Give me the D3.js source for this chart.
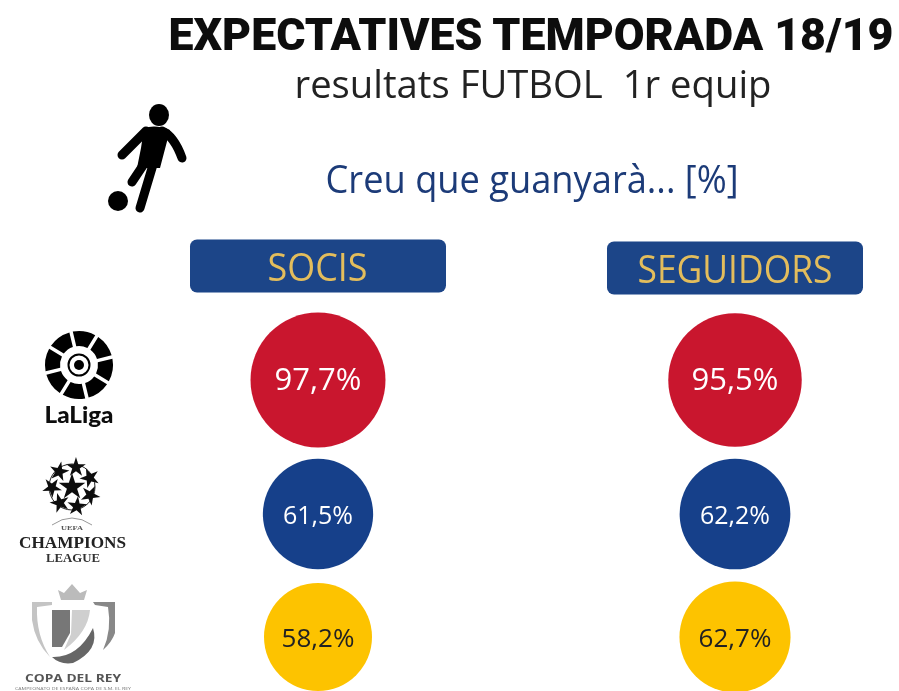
<!DOCTYPE html>
<html>
<head>
<meta charset="utf-8">
<script src="https://cdn.jsdelivr.net/npm/d3@7"></script>
<style>
  html, body { margin: 0; padding: 0; background: #fff; }
  svg { display: block; }
  text { text-anchor: middle; white-space: pre; }
</style>
</head>
<body>
<svg width="899" height="691"></svg>
<script>
const groups = ["SOCIS", "SEGUIDORS"]
const competitions = ["LaLiga", "Champions", "Copa"]
const socisValues = [97.7, 61.5, 58.2]
const seguidorsValues = [95.5, 62.2, 62.7]
const circleColors = ["#c9152f", "#17418a", "#fdc300"]

const soft = d3.select("svg").append("defs").append("filter").attr("id", "soft")
soft.append("feGaussianBlur").attr("stdDeviation", 0.6)

// the whole picture is a bit blurry in the reference
var svg = d3.select("svg").append("g").attr("filter", "url(#soft)")

const formatValue = (v) => v.toFixed(1).replace(".", ",") + "%"

var x = d3.scalePoint().domain(groups).range([318, 735])
var y = d3.scaleOrdinal().domain(competitions).range([380, 514, 637])
var r = d3.scaleLinear().domain([58.2, 97.7]).range([54, 67.5])
var color = d3.scaleOrdinal().domain(competitions).range(circleColors)

const rows = []
groups.forEach((group, i) => {
  const values = i === 0 ? socisValues : seguidorsValues
  competitions.forEach((c, j) => rows.push({ group, competition: c, value: values[j] }))
})

// text squeezed to the width it has in the picture
function label(parent, str, cx, cy, width, size, font, weight, fill) {
  return parent.append("text")
    .attr("x", cx).attr("y", cy)
    .attr("textLength", width).attr("lengthAdjust", "spacingAndGlyphs")
    .style("font-family", font).style("font-size", size + "px")
    .style("font-weight", weight).style("fill", fill)
    .text(str)
}

const sans = "'Open Sans', sans-serif"
label(svg, "EXPECTATIVES TEMPORADA 18/19", 531, 50, 725, 45, "Roboto, sans-serif", 900, "#111")
label(svg, "resultats FUTBOL  1r equip", 533, 98, 477, 39, sans, 400, "#222")
label(svg, "Creu que guanyarà... [%]", 532, 193, 413, 39, sans, 500, "#1b3a78")

// header pills
const pillY = { SOCIS: 266, SEGUIDORS: 268 }
const pills = svg.selectAll(".pill").data(groups).enter().append("g").attr("class", "pill")
pills.append("rect")
  .attr("x", d => x(d) - 128)
  .attr("y", d => pillY[d] - 26.5)
  .attr("width", 256).attr("height", 53).attr("rx", 7)
  .attr("fill", "#1b4488")
pills.each(function(d) {
  label(d3.select(this), d, x(d) - (d === "SOCIS" ? 0.5 : 0), pillY[d] + 14.5, d === "SOCIS" ? 100 : 195, 38, sans, 400, "#e3bd5c")
})

// bubbles
svg.selectAll(".bubble").data(rows).enter().append("circle")
  .attr("class", "bubble")
  .attr("cx", d => x(d.group))
  .attr("cy", d => y(d.competition))
  .attr("r", d => r(d.value))
  .attr("fill", d => color(d.competition))

svg.selectAll(".value").data(rows).enter().append("text")
  .attr("class", "value")
  .attr("x", d => x(d.group))
  .attr("y", d => y(d.competition) + 10)
  .style("font-family", sans)
  .style("font-size", d => d.competition === "LaLiga" ? "31px" : d.competition === "Copa" ? "26px" : "25px")
  .style("fill", d => d.competition === "Copa" ? "#222" : "#fff")
  .text(d => formatValue(d.value))

// player icon
const player = svg.append("g")
player.append("ellipse").attr("cx", 159).attr("cy", 115).attr("rx", 10).attr("ry", 11).attr("fill", "#000")
player.append("circle").attr("cx", 118).attr("cy", 201).attr("r", 10).attr("fill", "#000")
player.append("path").attr("d", "M146 131 L122 155 M162 131 Q174 136 182 158 M148 158 L132 182 M155 158 L140 208")
  .attr("fill", "none").attr("stroke", "#000").attr("stroke-width", 9).attr("stroke-linecap", "round").attr("stroke-linejoin", "round")
player.append("path").attr("d", "M144 128 Q156 124 170 130 L160 168 L137 168 L141 148 Z").attr("fill", "#000")

// LaLiga logo
const laliga = svg.append("g").attr("transform", "translate(79,365)")
const segment = d3.arc().innerRadius(19).outerRadius(34).padAngle(0.09)
d3.range(8).forEach(i => {
  laliga.append("path")
    .attr("d", segment({ startAngle: (i - 0.3) * Math.PI / 4, endAngle: (i + 0.7) * Math.PI / 4 }))
    .attr("fill", "#000")
})
laliga.append("circle").attr("r", 10.5).attr("fill", "none").attr("stroke", "#000").attr("stroke-width", 2)
laliga.append("circle").attr("r", 5).attr("fill", "#000")
label(svg, "LaLiga", 79, 423, 69, 22, "Lato, sans-serif", 900, "#111")

// Champions League logo
const ucl = svg.append("g").attr("transform", "translate(72,487)")
const star = d3.symbol().type(d3.symbolStar)
ucl.append("circle").attr("r", 23).attr("fill", "#fff").attr("stroke", "#222").attr("stroke-width", 1)
ucl.append("path").attr("d", star.size(220)()).attr("fill", "#111")
d3.range(7).forEach(i => {
  const a = i * 2 * Math.PI / 7 + 0.2
  ucl.append("path")
    .attr("transform", "translate(" + 20 * Math.sin(a) + "," + -20 * Math.cos(a) + ") rotate(" + i * 50 + ")")
    .attr("d", star.size(120)())
    .attr("fill", "#111")
})
ucl.append("path").attr("d", "M-20 38 Q0 24 20 38").attr("fill", "none").attr("stroke", "#999").attr("stroke-width", 1)
label(svg, "UEFA", 72, 530, 22, 7, "'Liberation Serif', serif", 700, "#555")
label(svg, "CHAMPIONS", 72.5, 548, 107, 16, "'Liberation Serif', serif", 700, "#222")
label(svg, "LEAGUE", 73, 562, 54, 12, "'Liberation Serif', serif", 700, "#333")

// Copa del Rey logo
const copa = svg.append("g")
copa.append("path").attr("d", "M58 590 L64 593 L72 584 L80 593 L87 590 L84 600 L61 600 Z").attr("fill", "#bbb")
copa.append("path").attr("d", "M32 602 L52 602 L52 605 L37 607 Q36 635 50 657 Q35 642 32 620 Z").attr("fill", "#c4c4c4")
copa.append("path").attr("d", "M93 602 L115 602 L115 633 Q112 642 103 650 Q112 630 108 607 L95 605 Z").attr("fill", "#888")
copa.append("path").attr("d", "M52 610 L70 610 L70 633 L62 647 L52 647 Z").attr("fill", "#777")
copa.append("path").attr("d", "M72 610 L90 610 Q88 632 64 650 L71 634 Z").attr("fill", "#cfcfcf")
copa.append("path").attr("d", "M52 657 Q78 658 93 628 Q100 650 73 663 Q60 665 52 657 Z").attr("fill", "#666")
label(svg, "COPA DEL REY", 73, 682, 96, 11, sans, 700, "#555")
label(svg, "CAMPEONATO DE ESPAÑA COPA DE S.M. EL REY", 73, 689.5, 116, 4, sans, 400, "#777")
</script>
</body>
</html>
